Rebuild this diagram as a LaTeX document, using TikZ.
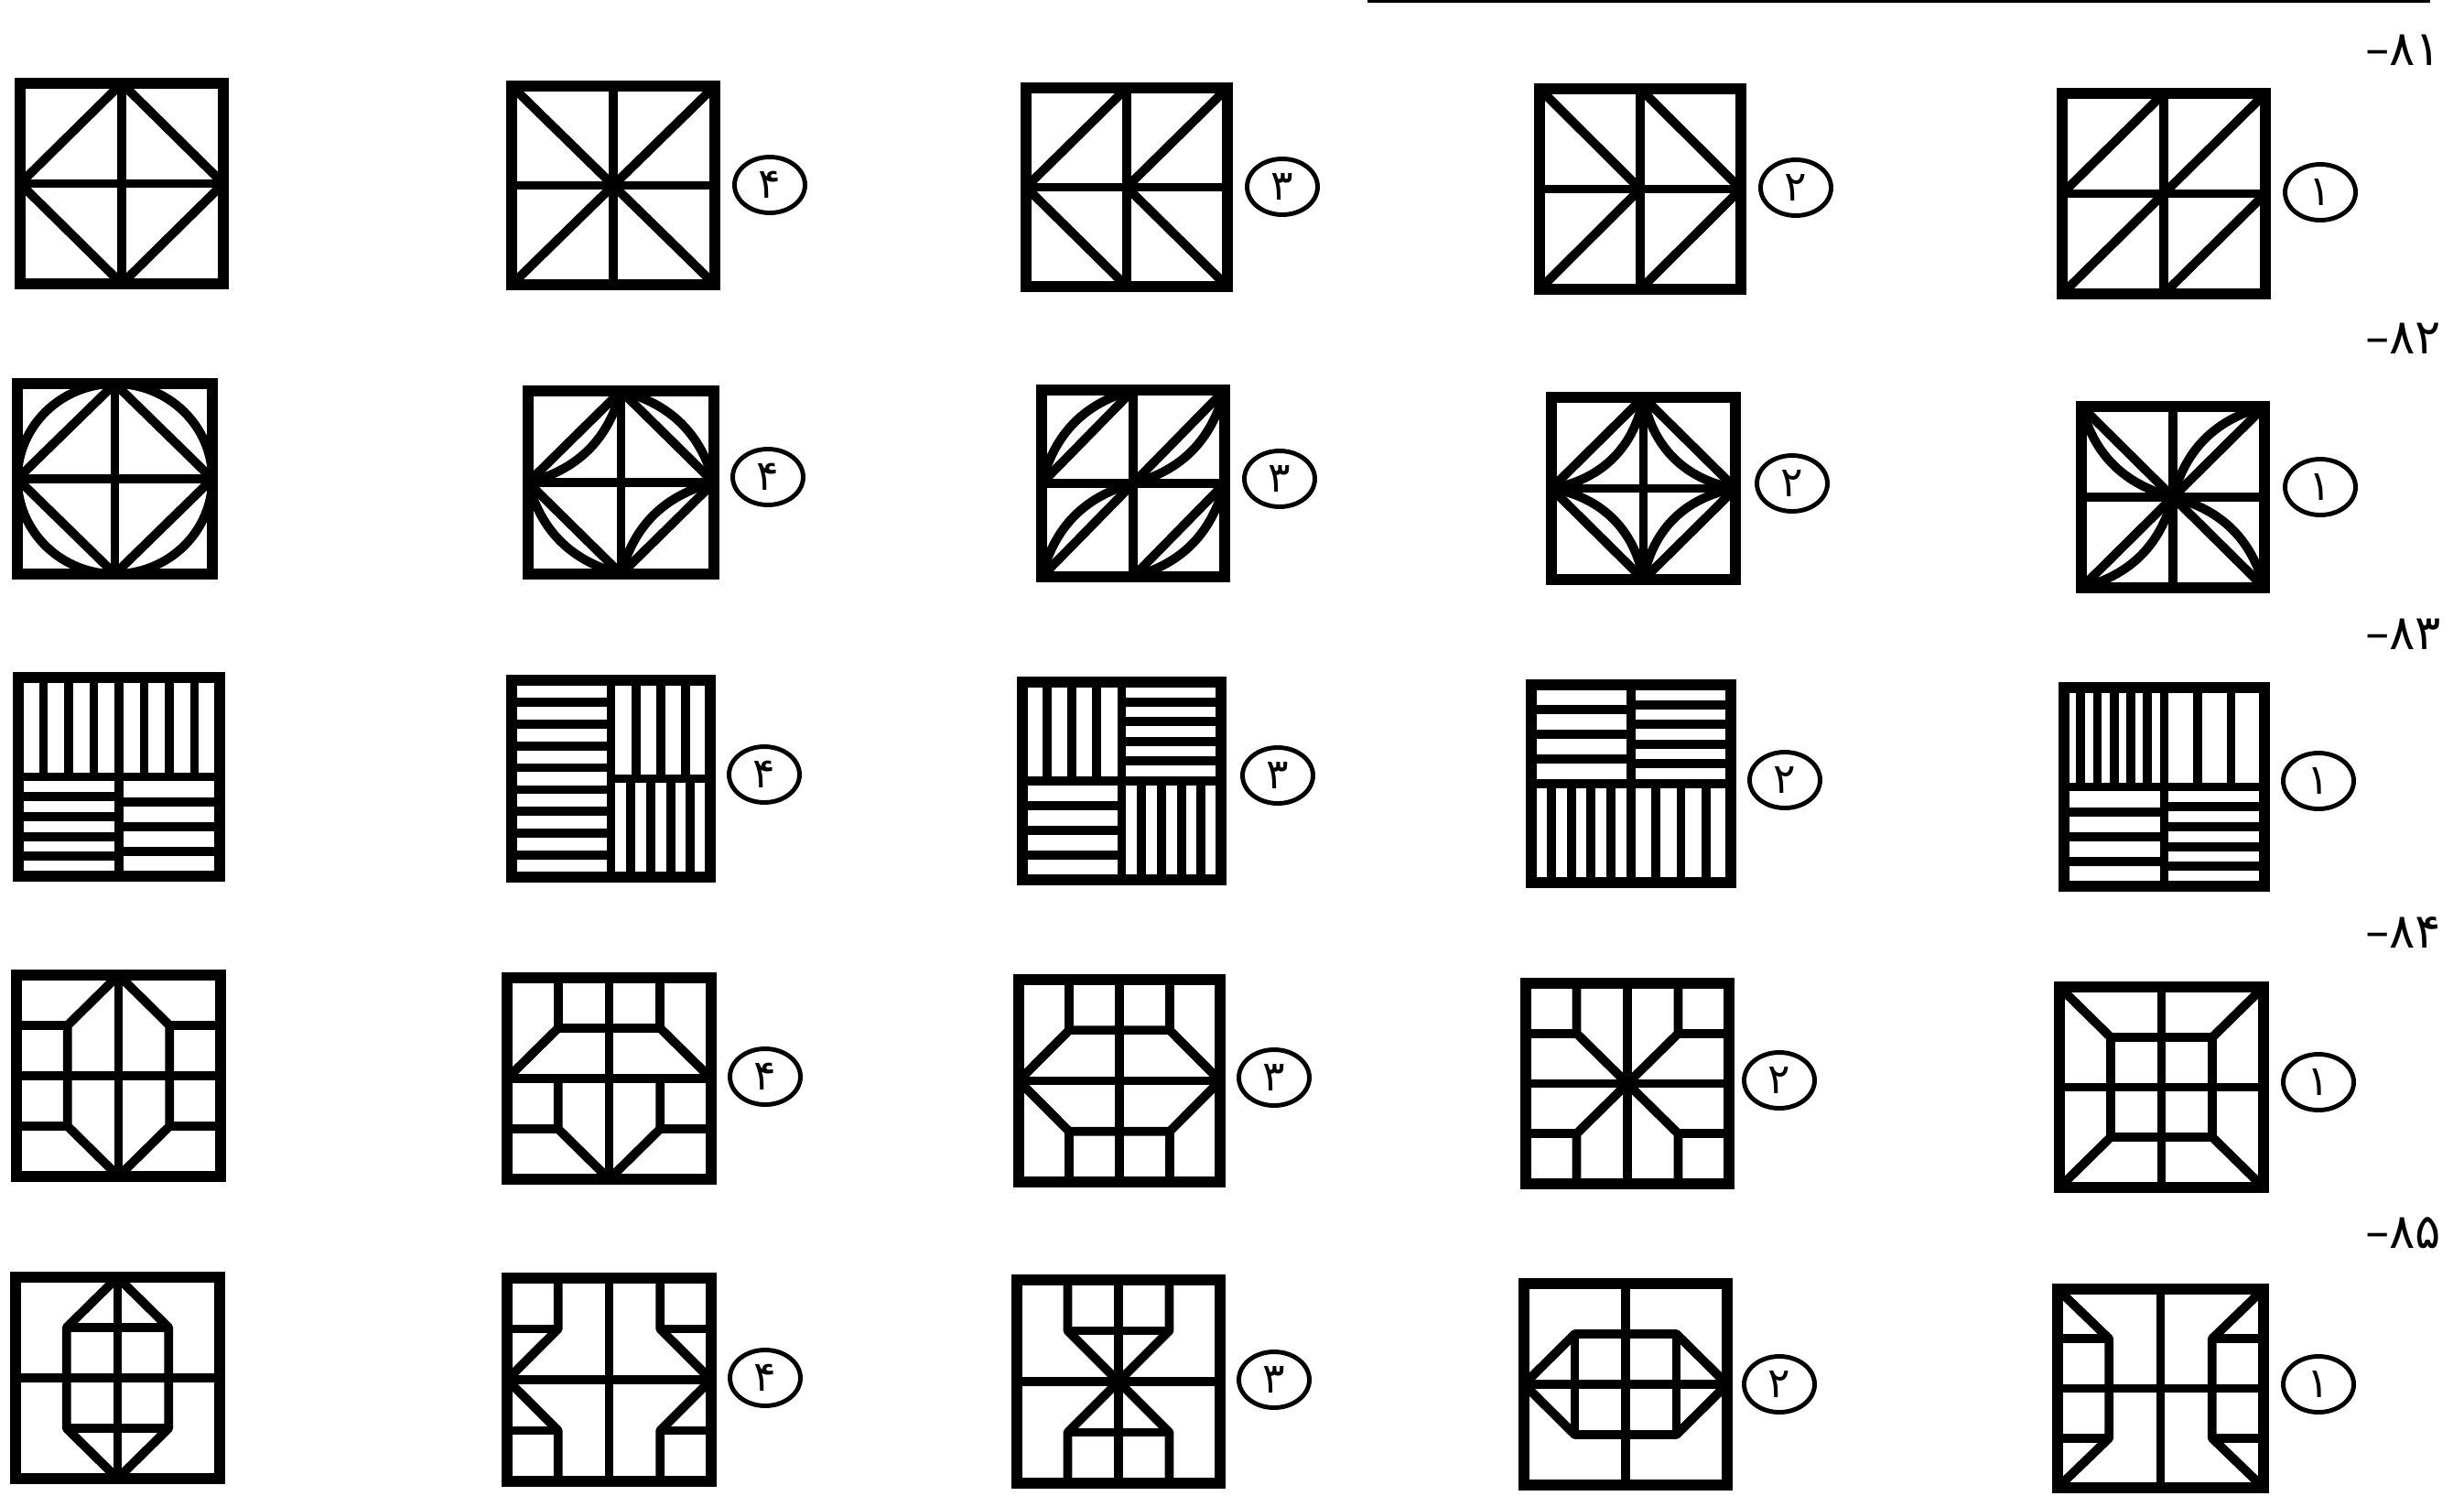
\documentclass[tikz,border=0pt]{standalone}
\usepackage{fontspec}
\newfontfamily\digitfont[Script=Arabic]{DejaVu Sans}
\TeXXeTstate=1
\usetikzlibrary{shapes}

\begin{document}
\begin{tikzpicture}[
    frame/.style={line width=3.3pt, line join=miter},
    bar/.style={line width=2.8pt, line join=round},
    choice/.style={ellipse, draw, line width=1.4pt, minimum width=0.77cm, minimum height=0.61cm, inner sep=0pt, font=\digitfont\fontsize{13}{13}\selectfont},
    qnum/.style={anchor=east, inner sep=0pt, font=\digitfont\fontsize{15}{15}\selectfont},
    tile/.style n args={4}{shift={(#1,#2)}, xscale=#3, yscale=#4}
]
\useasboundingbox (0,0) rectangle (26.92,-16.33);
\draw[line width=0.03cm] (14.94,-0.015) -- (26.55,-0.015);

% 81
\node[qnum] (q81) at (26.68,-0.55) {\beginR ۸۱–\endR};
\begin{scope}[tile={0.22}{-3.10}{2.22}{2.19}]
  \draw[bar] (0.5,0) -- (0.5,1) (0,0.5) -- (1,0.5);
  \draw[bar] (0.5,1) -- (1,0.5) -- (0.5,0) -- (0,0.5) -- cycle;
  \draw[frame] (0,0) rectangle (1,1);
\end{scope}
\begin{scope}[tile={5.59}{-3.11}{2.22}{2.17}]
  \draw[bar] (0.5,0) -- (0.5,1) (0,0.5) -- (1,0.5);
  \draw[bar] (0,0) -- (1,1) (0,1) -- (1,0);
  \draw[frame] (0,0) rectangle (1,1);
\end{scope}
\node[choice] (c81-4) at (8.41,-2.02) {۴};
\begin{scope}[tile={11.21}{-3.13}{2.20}{2.17}]
  \draw[bar] (0.5,0) -- (0.5,1) (0,0.5) -- (1,0.5);
  \draw[bar] (0.5,1) -- (0,0.5) -- (0.5,0) (1,1) -- (0.5,0.5) -- (1,0);
  \draw[frame] (0,0) rectangle (1,1);
\end{scope}
\node[choice] (c81-3) at (14.01,-2.04) {۳};
\begin{scope}[tile={16.82}{-3.16}{2.20}{2.19}]
  \draw[bar] (0.5,0) -- (0.5,1) (0,0.5) -- (1,0.5);
  \draw[bar] (0,1) -- (0.5,0.5) -- (0,0) (0.5,1) -- (1,0.5) -- (0.5,0);
  \draw[frame] (0,0) rectangle (1,1);
\end{scope}
\node[choice] (c81-2) at (19.62,-2.05) {۲};
\begin{scope}[tile={22.53}{-3.21}{2.22}{2.19}]
  \draw[bar] (0.5,0) -- (0.5,1) (0,0.5) -- (1,0.5);
  \draw[bar] (0,0.5) -- (0.5,1) (0.5,0.5) -- (1,1) (0,0) -- (0.5,0.5) (0.5,0) -- (1,0.5);
  \draw[frame] (0,0) rectangle (1,1);
\end{scope}
\node[choice] (c81-1) at (25.35,-2.10) {۱};

% 82
\node[qnum] (q82) at (26.68,-3.70) {\beginR ۸۲–\endR};
\begin{scope}[tile={0.19}{-6.27}{2.13}{2.08}]
  \draw[bar] (0.5,0) -- (0.5,1) (0,0.5) -- (1,0.5);
  \draw[bar] (0.5,1) -- (1,0.5) -- (0.5,0) -- (0,0.5) -- cycle;
  \draw[bar] (0.5,0.5) circle (0.5);
  \draw[frame] (0,0) rectangle (1,1);
\end{scope}
\begin{scope}[tile={5.77}{-6.27}{2.03}{2.00}]
  \draw[bar] (0.5,0) -- (0.5,1) (0,0.5) -- (1,0.5);
  \draw[bar] (0.5,1) -- (1,0.5) -- (0.5,0) -- (0,0.5) -- cycle;
  \draw[bar] (0.5,1) to[bend left=30] (0,0.5) (0.5,1) to[bend left=30] (1,0.5)
             (0,0.5) to[bend right=30] (0.5,0) (1,0.5) to[bend right=30] (0.5,0);
  \draw[frame] (0,0) rectangle (1,1);
\end{scope}
\node[choice] (c82-4) at (8.39,-5.21) {۴};
\begin{scope}[tile={11.38}{-6.30}{2.00}{2.04}]
  \draw[bar] (0.5,0) -- (0.5,1) (0,0.5) -- (1,0.5);
  \draw[bar] (0,0.5) -- (0.5,1) (0.5,0.5) -- (1,1) (0,0) -- (0.5,0.5) (0.5,0) -- (1,0.5);
  \draw[bar] (0,0.5) to[bend left=30] (0.5,1) (0.5,0.5) to[bend right=30] (1,1)
             (0,0) to[bend left=30] (0.5,0.5) (0.5,0) to[bend right=30] (1,0.5);
  \draw[frame] (0,0) rectangle (1,1);
\end{scope}
\node[choice] (c82-3) at (13.98,-5.23) {۳};
\begin{scope}[tile={16.95}{-6.33}{2.01}{1.99}]
  \draw[bar] (0.5,0) -- (0.5,1) (0,0.5) -- (1,0.5);
  \draw[bar] (0.5,1) -- (1,0.5) -- (0.5,0) -- (0,0.5) -- cycle;
  \draw[bar] (0.5,1) to[bend left=35] (0,0.5) (0.5,1) to[bend right=35] (1,0.5)
             (0,0.5) to[bend left=35] (0.5,0) (1,0.5) to[bend right=35] (0.5,0);
  \draw[frame] (0,0) rectangle (1,1);
\end{scope}
\node[choice] (c82-2) at (19.58,-5.28) {۲};
\begin{scope}[tile={22.74}{-6.42}{2.00}{1.98}]
  \draw[bar] (0.5,0) -- (0.5,1) (0,0.5) -- (1,0.5);
  \draw[bar] (0,0) -- (1,1) (0,1) -- (1,0);
  \draw[bar] (0,1) to[bend right=30] (0.5,0.5) (1,1) to[bend right=30] (0.5,0.5)
             (0,0) to[bend right=30] (0.5,0.5) (1,0) to[bend right=30] (0.5,0.5);
  \draw[frame] (0,0) rectangle (1,1);
\end{scope}
\node[choice] (c82-1) at (25.35,-5.32) {۱};

% 83
\node[qnum] (q83) at (26.68,-6.93) {\beginR ۸۳–\endR};
\begin{scope}[tile={0.20}{-9.57}{2.20}{2.17}]
  \draw[bar] (0.5,0) -- (0.5,1) (0,0.5) -- (1,0.5);
  \foreach \x in {1,2,3,5,6,7} \draw[bar] (\x/8,0.5) -- (\x/8,1);
  \foreach \y in {1,...,4} \draw[bar] (0,\y/10) -- (0.5,\y/10);
  \foreach \y in {1,2,3} \draw[bar] (0.5,\y/8) -- (1,\y/8);
  \draw[frame] (0,0) rectangle (1,1);
\end{scope}
\begin{scope}[tile={5.59}{-9.58}{2.17}{2.15}]
  \draw[bar] (0.5,0) -- (0.5,1) (0.5,0.5) -- (1,0.5);
  \foreach \y in {1,...,8} \draw[bar] (0,\y/9) -- (0.5,\y/9);
  \foreach \x in {1,2,3} \draw[bar] (0.5+\x/8,0.5) -- (0.5+\x/8,1);
  \foreach \x in {1,...,4} \draw[bar] (0.5+\x/10,0) -- (0.5+\x/10,0.5);
  \draw[frame] (0,0) rectangle (1,1);
\end{scope}
\node[choice] (c83-4) at (8.35,-8.46) {۴};
\begin{scope}[tile={11.17}{-9.61}{2.17}{2.16}]
  \draw[bar] (0.5,0) -- (0.5,1) (0,0.5) -- (1,0.5);
  \foreach \x in {1,2,3} \draw[bar] (\x/8,0.5) -- (\x/8,1);
  \foreach \y in {1,...,4} \draw[bar] (0.5,0.5+\y/10) -- (1,0.5+\y/10);
  \foreach \y in {1,2,3} \draw[bar] (0,\y/8) -- (0.5,\y/8);
  \foreach \x in {1,...,4} \draw[bar] (0.5+\x/10,0) -- (0.5+\x/10,0.5);
  \draw[frame] (0,0) rectangle (1,1);
\end{scope}
\node[choice] (c83-3) at (13.96,-8.47) {۳};
\begin{scope}[tile={16.73}{-9.64}{2.18}{2.16}]
  \draw[bar] (0.5,0) -- (0.5,1) (0,0.5) -- (1,0.5);
  \foreach \y in {1,2,3} \draw[bar] (0,0.5+\y/8) -- (0.5,0.5+\y/8);
  \foreach \y in {1,...,4} \draw[bar] (0.5,0.5+\y/10) -- (1,0.5+\y/10);
  \foreach \x in {1,...,4} \draw[bar] (\x/10,0) -- (\x/10,0.5);
  \foreach \x in {1,2,3} \draw[bar] (0.5+\x/8,0) -- (0.5+\x/8,0.5);
  \draw[frame] (0,0) rectangle (1,1);
\end{scope}
\node[choice] (c83-2) at (19.50,-8.52) {۲};
\begin{scope}[tile={22.55}{-9.68}{2.19}{2.17}]
  \draw[bar] (0.5,0) -- (0.5,1) (0,0.5) -- (1,0.5);
  \foreach \x in {1,...,5} \draw[bar] (\x/12,0.5) -- (\x/12,1);
  \foreach \x in {1,2} \draw[bar] (0.5+\x/6,0.5) -- (0.5+\x/6,1);
  \foreach \y in {1,2,3} \draw[bar] (0,\y/8) -- (0.5,\y/8);
  \foreach \y in {1,...,4} \draw[bar] (0.5,\y/10) -- (1,\y/10);
  \draw[frame] (0,0) rectangle (1,1);
\end{scope}
\node[choice] (c83-1) at (25.33,-8.53) {۱};

% 84
\node[qnum] (q84) at (26.68,-10.19) {\beginR ۸۴–\endR};
\begin{scope}[tile={0.18}{-12.85}{2.23}{2.20}]
  \draw[bar] (0.5,0) -- (0.5,1) (0,0.5) -- (1,0.5);
  \draw[bar] (0.5,1) -- (0.75,0.75) -- (0.75,0.25) -- (0.5,0) -- (0.25,0.25) -- (0.25,0.75) -- cycle;
  \draw[bar] (0,0.75) -- (0.25,0.75) (0.75,0.75) -- (1,0.75) (0,0.25) -- (0.25,0.25) (0.75,0.25) -- (1,0.25);
  \draw[frame] (0,0) rectangle (1,1);
\end{scope}
\begin{scope}[tile={5.54}{-12.88}{2.23}{2.20}]
  \draw[bar] (0.5,0) -- (0.5,1) (0,0.5) -- (1,0.5);
  \draw[bar] (0.25,1) -- (0.25,0.75) (0.75,1) -- (0.75,0.75);
  \draw[bar] (0,0.5) -- (0.25,0.75) -- (0.75,0.75) -- (1,0.5);
  \draw[bar] (0.25,0.5) -- (0.25,0.25) -- (0.5,0) -- (0.75,0.25) -- (0.75,0.5);
  \draw[bar] (0,0.25) -- (0.25,0.25) (0.75,0.25) -- (1,0.25);
  \draw[frame] (0,0) rectangle (1,1);
\end{scope}
\node[choice] (c84-4) at (8.36,-11.76) {۴};
\begin{scope}[tile={11.13}{-12.91}{2.20}{2.21}]
  \draw[bar] (0.5,0) -- (0.5,1) (0,0.5) -- (1,0.5);
  \draw[bar] (0.25,1) -- (0.25,0.75) (0.75,1) -- (0.75,0.75) (0.25,0) -- (0.25,0.25) (0.75,0) -- (0.75,0.25);
  \draw[bar] (0,0.5) -- (0.25,0.75) -- (0.75,0.75) -- (1,0.5) -- (0.75,0.25) -- (0.25,0.25) -- cycle;
  \draw[frame] (0,0) rectangle (1,1);
\end{scope}
\node[choice] (c84-3) at (13.92,-11.77) {۳};
\begin{scope}[tile={16.67}{-12.93}{2.22}{2.19}]
  \draw[bar] (0.5,0) -- (0.5,1) (0,0.5) -- (1,0.5);
  \draw[bar] (0.25,1) -- (0.25,0.75) -- (0.5,0.5) -- (0.75,0.75) -- (0.75,1);
  \draw[bar] (0.25,0) -- (0.25,0.25) -- (0.5,0.5) -- (0.75,0.25) -- (0.75,0);
  \draw[bar] (0,0.75) -- (0.25,0.75) (0.75,0.75) -- (1,0.75) (0,0.25) -- (0.25,0.25) (0.75,0.25) -- (1,0.25);
  \draw[frame] (0,0) rectangle (1,1);
\end{scope}
\node[choice] (c84-2) at (19.44,-11.80) {۲};
\begin{scope}[tile={22.50}{-12.97}{2.23}{2.19}]
  \draw[bar] (0.5,0) -- (0.5,1) (0,0.5) -- (1,0.5);
  \draw[bar] (0.25,0.25) rectangle (0.75,0.75);
  \draw[bar] (0,0) -- (0.25,0.25) (1,0) -- (0.75,0.25) (0,1) -- (0.25,0.75) (1,1) -- (0.75,0.75);
  \draw[frame] (0,0) rectangle (1,1);
\end{scope}
\node[choice] (c84-1) at (25.33,-11.82) {۱};

% 85
\node[qnum] (q85) at (26.68,-13.47) {\beginR ۸۵–\endR};
\begin{scope}[tile={0.17}{-16.15}{2.23}{2.20}]
  \draw[bar] (0.5,0) -- (0.5,1) (0,0.5) -- (1,0.5);
  \draw[bar] (0.5,1) -- (0.75,0.75) -- (0.75,0.25) -- (0.5,0) -- (0.25,0.25) -- (0.25,0.75) -- cycle;
  \draw[bar] (0.25,0.75) -- (0.75,0.75) (0.25,0.25) -- (0.75,0.25);
  \draw[frame] (0,0) rectangle (1,1);
\end{scope}
\begin{scope}[tile={5.54}{-16.18}{2.23}{2.22}]
  \draw[bar] (0.5,0) -- (0.5,1) (0,0.5) -- (1,0.5);
  \draw[bar] (0.25,1) -- (0.25,0.75) -- (0,0.5) -- (0.25,0.25) -- (0.25,0);
  \draw[bar] (0.75,1) -- (0.75,0.75) -- (1,0.5) -- (0.75,0.25) -- (0.75,0);
  \draw[bar] (0,0.75) -- (0.25,0.75) (0.75,0.75) -- (1,0.75) (0,0.25) -- (0.25,0.25) (0.75,0.25) -- (1,0.25);
  \draw[frame] (0,0) rectangle (1,1);
\end{scope}
\node[choice] (c85-4) at (8.36,-15.05) {۴};
\begin{scope}[tile={11.11}{-16.20}{2.22}{2.22}]
  \draw[bar] (0.5,0) -- (0.5,1) (0,0.5) -- (1,0.5);
  \draw[bar] (0.25,1) -- (0.25,0.75) -- (0.5,0.5) -- (0.25,0.25) -- (0.25,0);
  \draw[bar] (0.75,1) -- (0.75,0.75) -- (0.5,0.5) -- (0.75,0.25) -- (0.75,0);
  \draw[bar] (0.25,0.75) -- (0.75,0.75) (0.25,0.25) -- (0.75,0.25);
  \draw[frame] (0,0) rectangle (1,1);
\end{scope}
\node[choice] (c85-3) at (13.92,-15.07) {۳};
\begin{scope}[tile={16.65}{-16.22}{2.22}{2.20}]
  \draw[bar] (0.5,0) -- (0.5,1) (0,0.5) -- (1,0.5);
  \draw[bar] (0,0.5) -- (0.25,0.75) -- (0.75,0.75) -- (1,0.5) -- (0.75,0.25) -- (0.25,0.25) -- cycle;
  \draw[bar] (0.25,0.75) -- (0.25,0.25) (0.75,0.75) -- (0.75,0.25);
  \draw[frame] (0,0) rectangle (1,1);
\end{scope}
\node[choice] (c85-2) at (19.44,-15.12) {۲};
\begin{scope}[tile={22.48}{-16.25}{2.25}{2.17}]
  \draw[bar] (0.5,0) -- (0.5,1) (0,0.5) -- (1,0.5);
  \draw[bar] (0,1) -- (0.25,0.75) -- (0.25,0.25) -- (0,0) (1,1) -- (0.75,0.75) -- (0.75,0.25) -- (1,0);
  \draw[bar] (0,0.75) -- (0.25,0.75) (0,0.25) -- (0.25,0.25) (0.75,0.75) -- (1,0.75) (0.75,0.25) -- (1,0.25);
  \draw[frame] (0,0) rectangle (1,1);
\end{scope}
\node[choice] (c85-1) at (25.33,-15.12) {۱};

\end{tikzpicture}
\end{document}
